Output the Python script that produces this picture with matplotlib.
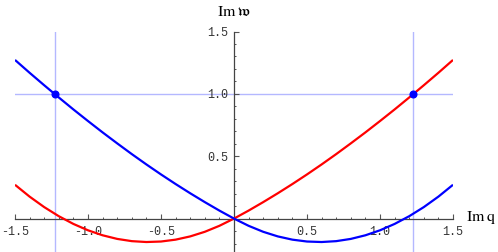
import matplotlib
matplotlib.use("Agg")
import matplotlib.pyplot as plt
from matplotlib.ticker import MultipleLocator, FixedLocator

plt.rcParams['mathtext.fontset'] = 'stix'
plt.rcParams['axes.unicode_minus'] = False

q_values = [-1.5, -1.4, -1.3, -1.2, -1.1, -1.0, -0.9, -0.8, -0.7, -0.6, -0.5, -0.4,
            -0.3, -0.2, -0.1, 0.0, 0.1, 0.2, 0.3, 0.4, 0.5, 0.6, 0.7, 0.8, 0.9,
            1.0, 1.1, 1.2, 1.3, 1.4, 1.5]
red_w = [0.271, 0.176, 0.092, 0.019, -0.043, -0.094, -0.134, -0.163, -0.181, -0.188,
         -0.184, -0.169, -0.143, -0.106, -0.058, 0.0, 0.064, 0.132, 0.203, 0.277,
         0.354, 0.434, 0.517, 0.603, 0.691, 0.782, 0.875, 0.971, 1.069, 1.169, 1.272]
blue_w = [1.272, 1.169, 1.069, 0.971, 0.875, 0.782, 0.691, 0.603, 0.517, 0.434,
          0.354, 0.277, 0.203, 0.132, 0.064, 0.0, -0.058, -0.106, -0.143, -0.169,
          -0.184, -0.188, -0.181, -0.163, -0.134, -0.094, -0.043, 0.019, 0.092, 0.176, 0.271]
marker_q = [-1.224, 1.224]
marker_w = [1.0, 1.0]

x_ticks = [-1.5, -1.0, -0.5, 0.5, 1.0, 1.5]
x_ticklabels = ["-1.5", "-1.0", "-0.5", "0.5", "1.0", "1.5"]
y_ticks = [0.5, 1.0, 1.5]
y_ticklabels = ["0.5", "1.0", "1.5"]

W, H = 498, 252
fig = plt.figure(figsize=(W / 100, H / 100), dpi=100)
ax = fig.add_axes([15 / W, 0, (453 - 15) / W, (252 - 31.5) / H])
ax.set_xlim(-1.5, 1.5)
ax.set_ylim(-0.268, 1.5)

grid_c = '#b4b8ff'
for q in marker_q:
    ax.axvline(q, color=grid_c, lw=1.0, zorder=1)
ax.axhline(marker_w[0], color=grid_c, lw=1.0, zorder=1)

ax.plot(q_values, red_w, color='#ff0000', lw=1.6, zorder=3, solid_capstyle='butt')
ax.plot(q_values, blue_w, color='#0000ff', lw=1.6, zorder=3, solid_capstyle='butt')
ax.plot(marker_q, marker_w, 'o', color='#0000ff', ms=4.8, zorder=4, clip_on=False)

for s in ['top', 'right']:
    ax.spines[s].set_visible(False)
ax.spines['left'].set_position(('data', 0))
ax.spines['bottom'].set_position(('data', 0))
for s in ['left', 'bottom']:
    ax.spines[s].set_color('#444444')
    ax.spines[s].set_linewidth(0.9)
    ax.spines[s].set_zorder(2)

ax.xaxis.set_major_locator(FixedLocator(x_ticks))
ax.set_xticklabels(x_ticklabels)
ax.yaxis.set_major_locator(FixedLocator(y_ticks))
ax.set_yticklabels(y_ticklabels)
ax.xaxis.set_minor_locator(MultipleLocator(0.1))
ax.yaxis.set_minor_locator(MultipleLocator(0.1))
ax.tick_params(which='major', direction='in', length=3.4, width=0.8, color='#555555',
               labelsize=8.5, labelcolor='#333333', pad=4)
ax.tick_params(axis='x', which='major', pad=5.5)
ax.tick_params(which='minor', direction='in', length=1.7, width=0.7, color='#555555')
for lab in ax.get_xticklabels() + ax.get_yticklabels():
    lab.set_fontfamily('Liberation Mono')
ax.patch.set_alpha(0)

fig.text(234.5 / W, 1 - 15.5 / H, r'$\mathrm{Im}\;\mathfrak{w}$', ha='center', va='baseline', fontsize=11.5)
fig.text(481 / W, 1 - 221 / H, r'$\mathrm{Im}\;\mathrm{q}$', ha='center', va='baseline', fontsize=11.5)

fig.savefig('out.png', dpi=100)
